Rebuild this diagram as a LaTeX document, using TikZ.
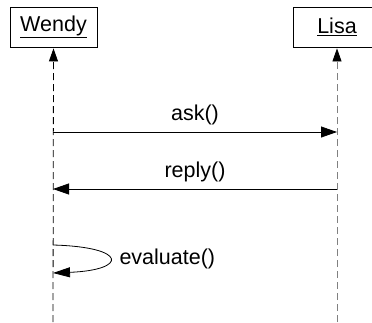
\documentclass[tikz,border=0pt]{standalone}
\usepackage{fontspec}
\setmainfont{Liberation Sans}
\usetikzlibrary{arrows.meta}

\begin{document}
\begin{tikzpicture}[x=1pt,y=-1pt,font=\fontsize{21.5}{25}\selectfont,
  obj/.style={draw,thick,rectangle,minimum width=87pt,minimum height=40pt,inner sep=0pt},
  life/.style={dashed,thick,dash pattern=on 7pt off 4pt,-{Triangle[length=13pt,width=9pt,color=black]}},
  msg/.style={thick,-{Triangle[length=16pt,width=11pt]}}]
\useasboundingbox (0,0) rectangle (372,322);
\clip (0,0) rectangle (372,322);
% objects
\node[obj] (wendy) at (53.5,27) {\underline{Wendy}};
\node[obj] (lisa) at (337,27) {\underline{Lisa}};
% lifelines, drawn upwards
\coordinate (wendy end) at (53,322);
\coordinate (lisa end) at (337,322);
\draw[life] (wendy end) -- ([yshift=-1pt]wendy.south);
\draw[life,gray] (lisa end) -- ([yshift=-1pt]wendy.south -| lisa end);
% messages
\foreach \n/\y in {ask/132,reply/189,self/245,back/273} {
  \coordinate (w-\n) at (53,\y);
  \coordinate (l-\n) at (337,\y);
}
\draw[msg] (w-ask) -- node[above=3pt] (ask) {ask()} (l-ask);
\draw[msg] (l-reply) -- node[above=3pt] (reply) {reply()} (w-reply);
\draw[thick,-{Triangle[length=17pt,width=10pt]}] (w-self)
   .. controls (128,247) and (128,270) .. (w-back);
\node[anchor=west] (evaluate) at (116,259) {evaluate()};
\end{tikzpicture}
\end{document}
